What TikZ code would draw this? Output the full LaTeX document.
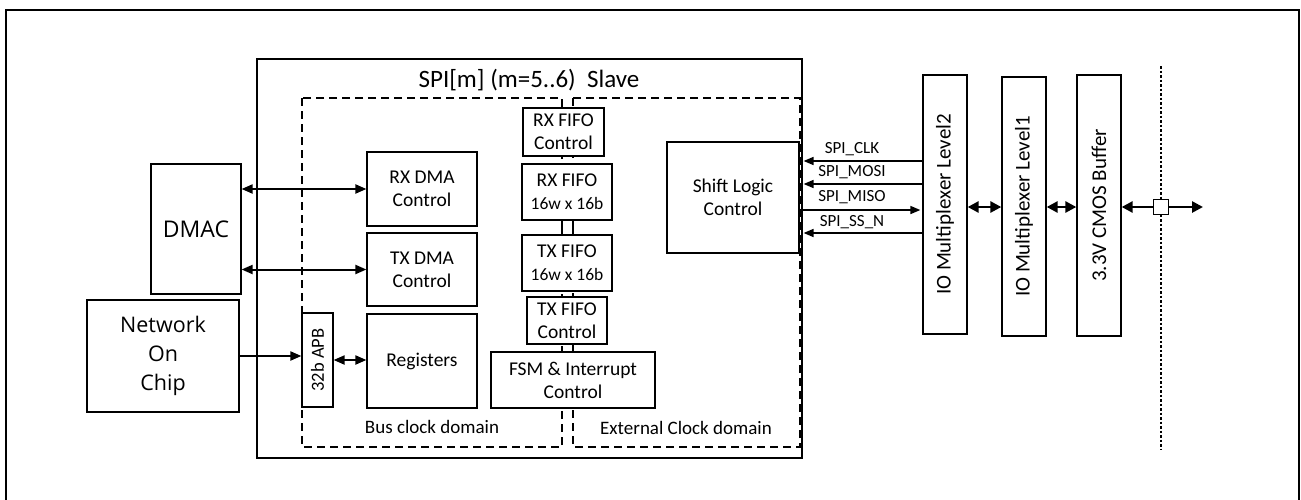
\documentclass[tikz,border=0pt]{standalone}
\usepackage{fontspec}
\setmainfont{Carlito}
\newfontfamily\osans{Open Sans}
\usetikzlibrary{arrows.meta,calc}
\tikzset{
  box/.style={draw=black,line width=1.2pt,fill=white,inner sep=0pt,align=center,
    font=\fontsize{19.5}{23}\selectfont},
  iobox/.style={draw=black,line width=1.3pt,fill=white,inner sep=0pt,
    minimum width=44pt},
  iotext/.style={rotate=90,font=\fontsize{21}{22}\selectfont},
  clkdom/.style={draw=black,line width=1.2pt,dash pattern=on 8pt off 5pt},
  conn/.style={line width=2pt,{Triangle[length=11pt,width=9pt]}-{Triangle[length=11pt,width=9pt]}},
  conn1/.style={line width=2pt,-{Triangle[length=11pt,width=9pt]}},
  sig/.style={line width=1.6pt,-{Triangle[length=10pt,width=8pt]}},
  thick2/.style={line width=2.6pt,{Triangle[length=11pt,width=11pt]}-{Triangle[length=11pt,width=11pt]}},
  thick1/.style={line width=2.6pt,-{Triangle[length=11pt,width=11pt]}},
  lbl/.style={inner sep=0pt,font=\fontsize{17}{18}\selectfont},
}
\begin{document}
\begin{tikzpicture}[x=1pt,y=-1pt]
\useasboundingbox (0,0) rectangle (1301,499);
% outer frame
\draw[line width=1.5pt] (6,520) -- (6,10) -- (1299,10) -- (1299,520);
% SPI box
\node[draw,line width=1.2pt,minimum width=545pt,minimum height=399pt,inner sep=0pt] (spi) at (529.5,258.5) {};
\node[inner sep=0pt,font=\fontsize{25}{26}\selectfont] (title) at (529,80) {SPI[m] (m=5..6)\ \ Slave};
% clock domains
\draw[clkdom] (302,98) rectangle (562,447);
\draw[clkdom] (573,98) rectangle (800,447);
\node[inner sep=0pt,font=\fontsize{19}{22}\selectfont] (busl) at (432,427) {Bus clock domain};
\node[inner sep=0pt,font=\fontsize{19}{22}\selectfont] (extl) at (686,428) {External Clock domain};
% left blocks
\node[box,font=\osans\fontsize{23}{28}\selectfont,minimum width=90pt,minimum height=130pt] (dmac) at (196,229) {DMAC};
\node[box,font=\osans\fontsize{21.5}{29}\selectfont,minimum width=152pt,minimum height=112pt] (noc) at (163,356) {Network\\On\\Chip};
% bus domain blocks
\node[box,minimum width=110pt,minimum height=74pt] (rxdma) at (422,189) {RX DMA\\Control};
\node[box,minimum width=110pt,minimum height=73pt] (txdma) at (422,269.5) {TX DMA\\Control};
\node[box,minimum width=110pt,minimum height=94pt] (reg) at (422,361) {Registers};
\node[box,minimum width=31pt,minimum height=94pt] (apb) at (317.5,360) {};
\node[rotate=90,inner sep=0pt,font=\fontsize{18.5}{20}\selectfont] (apbt) at (apb) {32b APB};
% FIFO column
\draw[line width=1.2pt] (562,220) -- (562,235) (573,220) -- (573,235);
\node[box,minimum width=81pt,minimum height=48pt] (rxfc) at (563.5,132) {RX FIFO\\Control};
\node[box,minimum width=90pt,minimum height=56pt] (rxf) at (567,192) {RX FIFO\\{\fontsize{17.5}{22}\selectfont 16w x 16b}};
\node[box,minimum width=90pt,minimum height=56pt] (txf) at (567,263) {TX FIFO\\{\fontsize{17.5}{22}\selectfont 16w x 16b}};
\node[box,minimum width=80pt,minimum height=47pt] (txfc) at (567,320.5) {TX FIFO\\Control};
\node[box,minimum width=164pt,minimum height=56pt] (fsm) at (573,380) {FSM \& Interrupt\\Control};
\node[box,minimum width=132pt,minimum height=111pt] (shift) at (733,197.5) {Shift Logic\\Control};
% IO blocks
\node[iobox,minimum height=259pt] (io2) at (945,204.5) {};
\node[iotext] at (io2) {IO Multiplexer Level2};
\node[iobox,minimum height=259pt] (io1) at (1024,206.5) {};
\node[iotext] at (io1) {IO Multiplexer Level1};
\node[iobox,minimum height=261pt] (buf) at (1099,205.5) {};
\node[iotext] at (buf) {3.3V CMOS Buffer};
% dotted boundary
\coordinate (dtop) at (1161,66);
\coordinate (dbot) at (1161,450);
\draw[line width=1.8pt,dash pattern=on 2.5pt off 2pt] (dtop) -- (dbot);
\node[draw,line width=1.3pt,fill=white,minimum width=15pt,minimum height=15pt,inner sep=0pt] (sq) at (1161,207) {};
\coordinate (out) at (1203,207);
% connectors left
\draw[conn] (dmac.east |- rxdma.west) -- (rxdma.west);
\draw[conn] (dmac.east |- txdma.west) -- (txdma.west);
\draw[conn1] (noc.east) -- (apb.west |- noc.east);
\draw[conn] (apb.east) -- (reg.west |- apb.east);
% SPI signals
\coordinate (y1) at (0,161);
\coordinate (y2) at (0,184);
\coordinate (y3) at (0,210);
\coordinate (y4) at (0,233);
\draw[sig] (io2.west |- y1) -- ($(shift.east |- y1)+(4,0)$);
\draw[sig] (io2.west |- y2) -- ($(shift.east |- y2)+(4,0)$);
\draw[sig] ($(shift.east |- y3)+(3,0)$) -- ($(io2.west |- y3)+(-2,0)$);
\draw[sig] (io2.west |- y4) -- ($(shift.east |- y4)+(4,0)$);
\node[lbl] (l1) at (852,149) {SPI\_CLK};
\node[lbl] (l2) at (852,172) {SPI\_MOSI};
\node[lbl] (l3) at (852,197) {SPI\_MISO};
\node[lbl] (l4) at (852,222) {SPI\_SS\_N};
% IO connectors
\draw[thick2] (io2.east |- sq) -- (io1.west |- sq);
\draw[thick2] (io1.east |- sq) -- (buf.west |- sq);
\draw[thick1] (sq.west) -- (buf.east |- sq);
\draw[thick1] (sq.east) -- (out);
\end{tikzpicture}
\end{document}
